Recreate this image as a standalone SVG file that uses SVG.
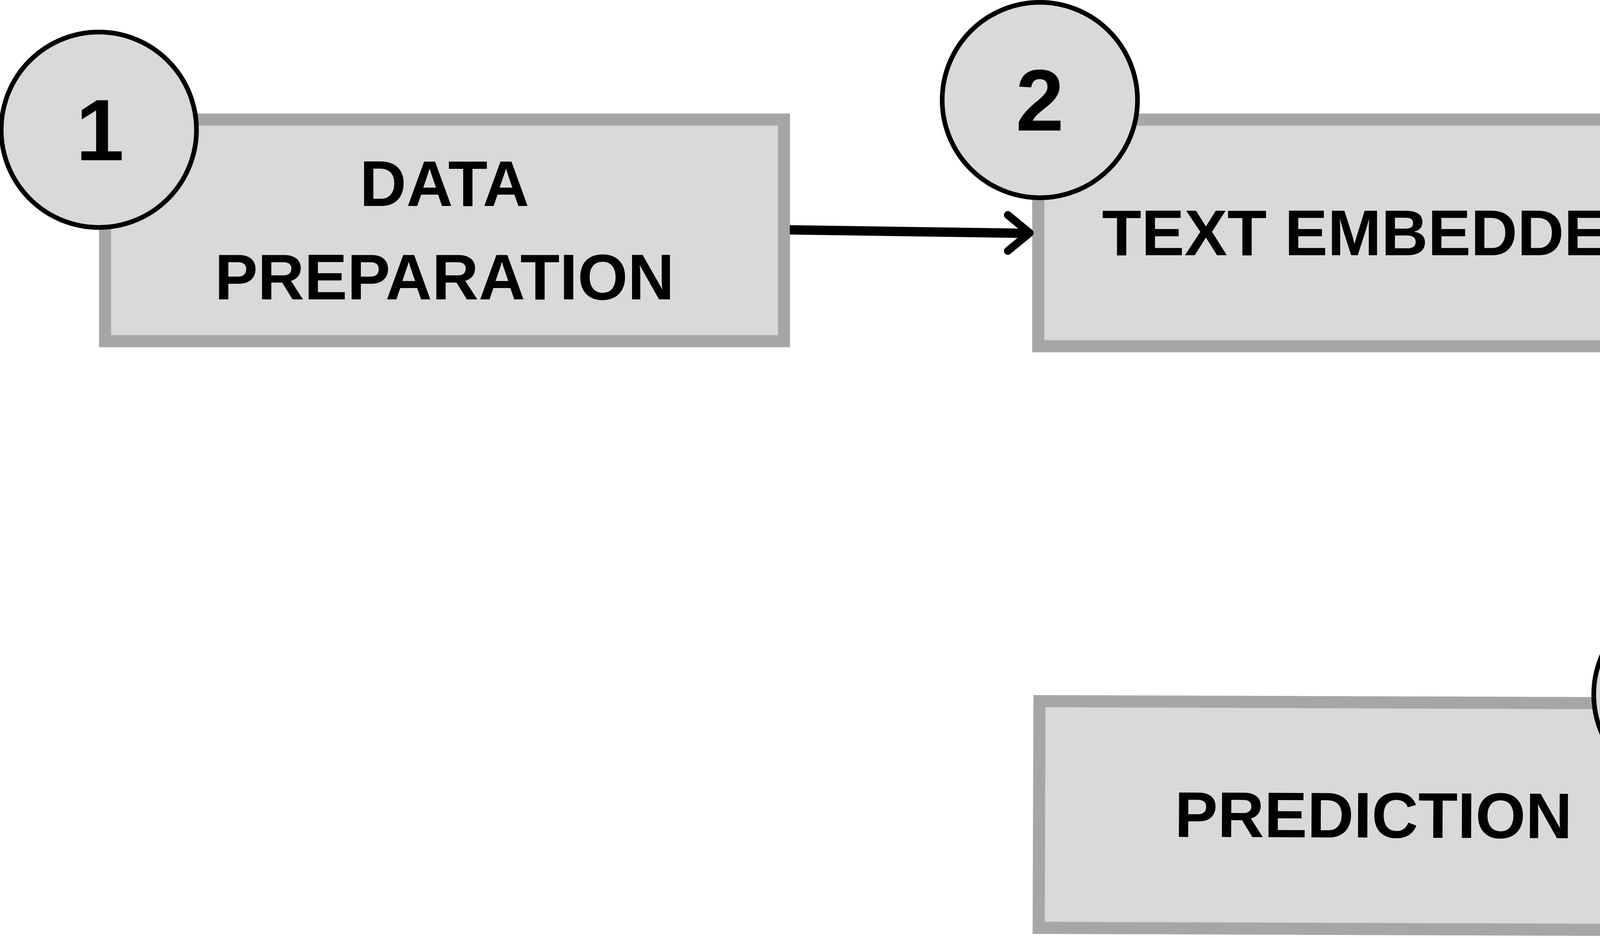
<svg xmlns="http://www.w3.org/2000/svg" width="6975" height="2400" viewBox="0 0 6975 2400">
<style>
.box{fill:#d9d9d9;stroke:#a6a6a6;stroke-width:31}
.num{fill:#d9d9d9;stroke:#000;stroke-width:12}
.lbl{font-family:"Liberation Sans",Arial,sans-serif;font-weight:700;font-size:165px;fill:#000;text-anchor:middle}
.dig{font-family:"Liberation Sans",Arial,sans-serif;font-weight:700;font-size:222px;fill:#000;text-anchor:middle}
.ln{fill:none;stroke:#000;stroke-width:24;stroke-linecap:butt}
.hd{fill:none;stroke:#000;stroke-width:20;stroke-linecap:round;stroke-linejoin:round}
</style>
<rect width="6975" height="2400" fill="#fff"/>
<g id="node1">
<rect class="box" x="269" y="306" width="1738" height="567"/>
<text class="lbl" x="1138" y="527">DATA</text>
<text class="lbl" x="1138" y="766">PREPARATION</text>
<circle class="num" cx="253" cy="332" r="250"/>
<text class="dig" x="256" y="410">1</text>
</g>
<g id="node2">
<rect class="box" x="2658" y="306" width="1738" height="580"/>
<text class="lbl" x="3527" y="653">TEXT EMBEDDER</text>
<circle class="num" cx="2662" cy="256" r="250"/>
<text class="dig" x="2662" y="334">2</text>
</g>
<g id="node3">
<rect class="box" x="4967" y="306" width="1737" height="580"/>
<text class="lbl" x="5837" y="652">FT-TRANSFORMER</text>
<circle class="num" cx="4960" cy="256" r="250"/>
<text class="dig" x="4958" y="334">3</text>
</g>
<g id="node4">
<g transform="rotate(0.22 5834 2090)">
<rect class="box" x="4968" y="1800" width="1732" height="580"/>
<text class="lbl" x="5834" y="2146">EVALUATION</text>
</g>
<circle class="num" cx="6716" cy="1769" r="250"/>
<text class="dig" x="6718" y="1846">4</text>
</g>
<g id="node5">
<g transform="rotate(0.2 3516 2087)">
<rect class="box" x="2660" y="1797" width="1712" height="580"/>
<text class="lbl" x="3516" y="2143">PREDICTION</text>
</g>
<circle class="num" cx="4330" cy="1777" r="250"/>
<text class="dig" x="4328" y="1856">5</text>
</g>
<g id="connectors">
<path class="ln" d="M2022,588 L2630,597"/>
<path class="hd" d="M2580,550 L2636,596 L2580,642"/>
<path class="ln" d="M4412,596 L4940,596"/>
<path class="hd" d="M4886,550 L4943,596 L4886,642"/>
<path class="ln" d="M5835,901 L5835,1768"/>
<path class="hd" d="M5793,1716 L5835,1776 L5878,1716"/>
<path class="ln" d="M4951,2086 L4402,2090"/>
<path class="hd" d="M4456,2044 L4396,2090 L4456,2136"/>
</g>
</svg>
